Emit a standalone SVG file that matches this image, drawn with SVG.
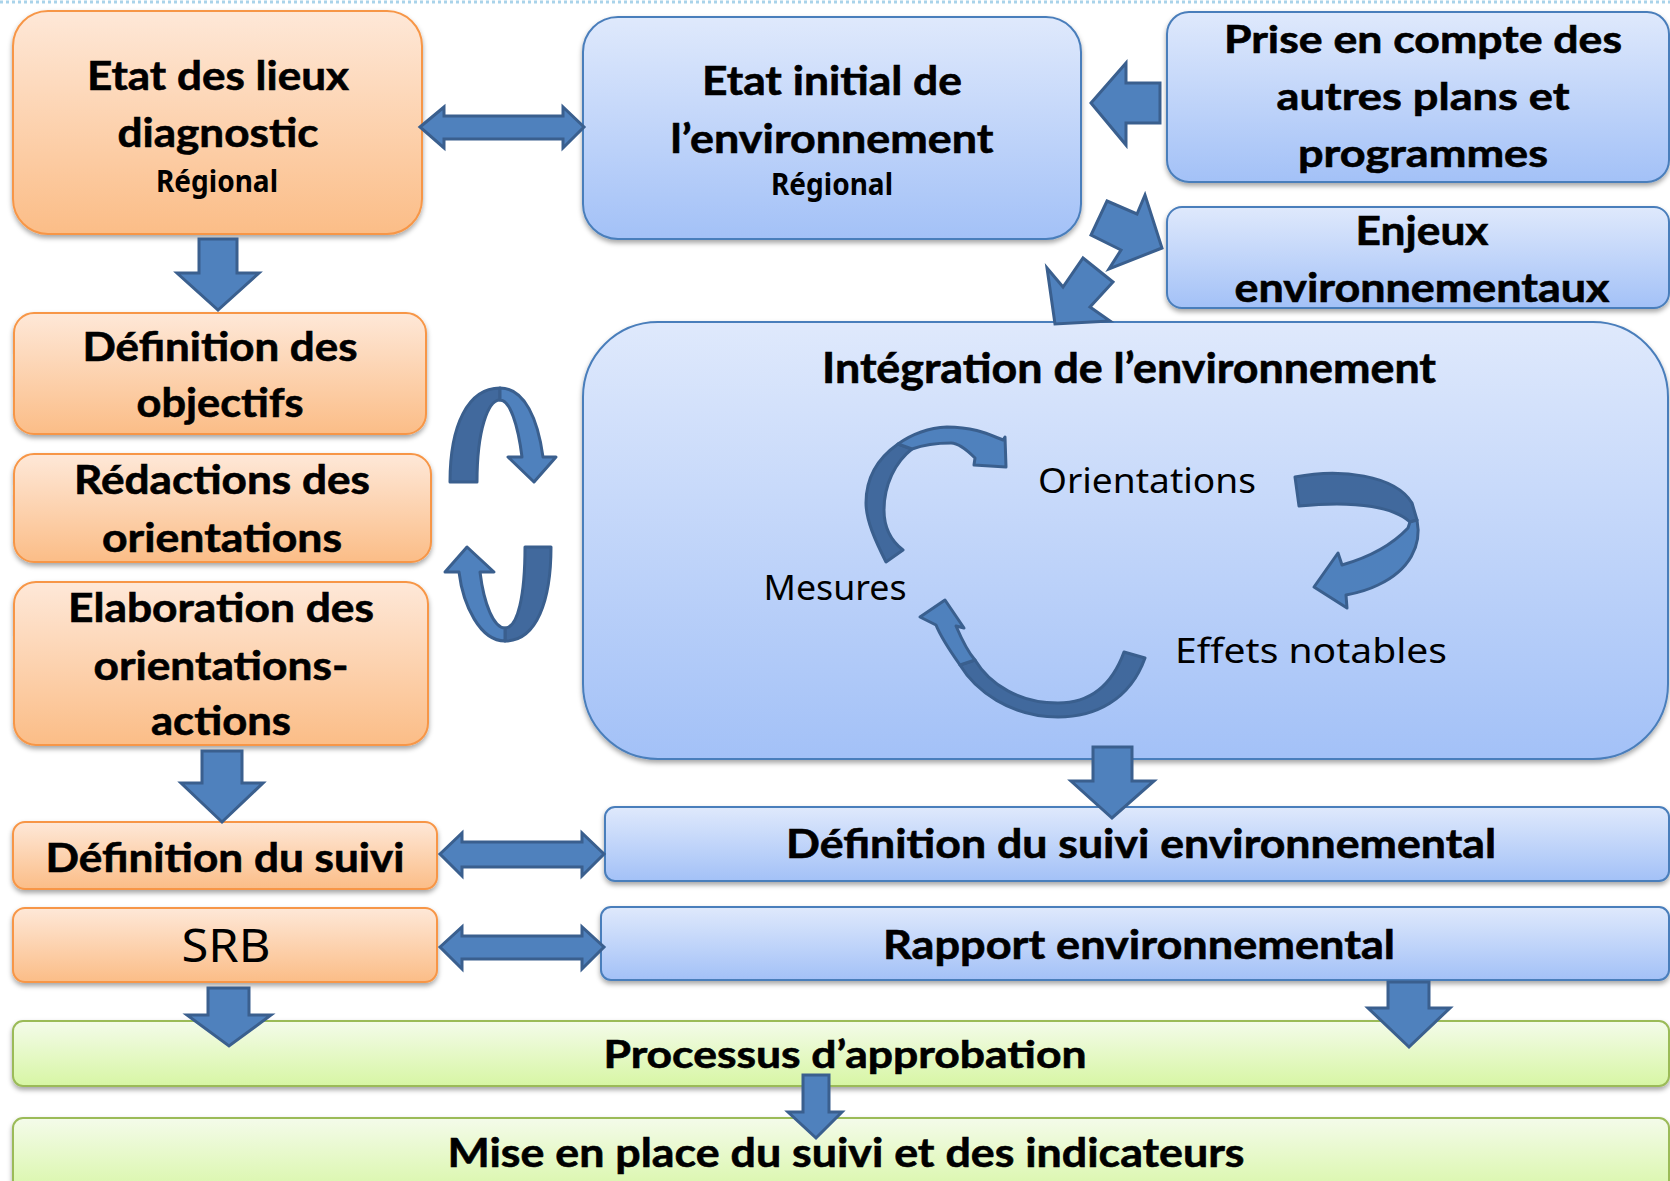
<svg xmlns="http://www.w3.org/2000/svg" width="1670" height="1181" viewBox="0 0 1670 1181">
  <defs>
    <linearGradient id="gOrange" x1="0" y1="0" x2="0" y2="1">
      <stop offset="0" stop-color="#fee8d8"/>
      <stop offset="1" stop-color="#fbbd87"/>
    </linearGradient>
    <linearGradient id="gBlue" x1="0" y1="0" x2="0" y2="1">
      <stop offset="0" stop-color="#dfe9fc"/>
      <stop offset="1" stop-color="#a3c1f7"/>
    </linearGradient>
    <linearGradient id="gGreen" x1="0" y1="0" x2="0" y2="1">
      <stop offset="0" stop-color="#f4fbea"/>
      <stop offset="1" stop-color="#d7f6a4"/>
    </linearGradient>
    <filter id="shadow" x="-5%" y="-10%" width="110%" height="130%">
      <feDropShadow dx="0" dy="3" stdDeviation="2.5" flood-color="#000" flood-opacity="0.35"/>
    </filter>
  </defs>
  <style>
    .orange { fill: url(#gOrange); stroke: #f79646; stroke-width: 2; filter: url(#shadow); }
    .blue { fill: url(#gBlue); stroke: #4a7ebb; stroke-width: 2; filter: url(#shadow); }
    .green { fill: url(#gGreen); stroke: #9bbb59; stroke-width: 2; filter: url(#shadow); }
    .t { font-family: Lato, "Open Sans", "DejaVu Sans", sans-serif; font-weight: 700; fill: #000; stroke: #000; stroke-width: 0.6; text-anchor: middle; }
    .t40 { font-size: 40px; }
    .t38 { font-size: 38px; }
    .t42 { font-size: 42px; }
    .c { font-family: "Noto Sans", "DejaVu Sans", sans-serif; fill: #000; text-anchor: middle; }
    .reg { font-size: 30px; font-weight: 700; }
    .lab { font-size: 35px; }
    .arrow { fill: #4f81bd; stroke: #3a5f8e; stroke-width: 3; stroke-linejoin: miter; }
    .back { fill: #41699d; stroke: #3a5f8e; stroke-width: 3; stroke-linejoin: round; }
    .front { fill: #4f81bd; stroke: #3a5f8e; stroke-width: 3; stroke-linejoin: round; }
  </style>

  <rect width="1670" height="1181" fill="#ffffff"/>
  <!-- dotted header rule -->
  <line x1="0" y1="2" x2="1670" y2="2" stroke="#a9d3ea" stroke-width="3" stroke-dasharray="3 3"/>

  <!-- left column -->
  <g id="etat-des-lieux">
    <rect class="orange" x="13" y="11" width="409" height="223" rx="35"/>
    <text class="t t40" x="218" y="90" textLength="262" lengthAdjust="spacingAndGlyphs">Etat des lieux</text>
    <text class="t t40" x="218" y="147" textLength="201" lengthAdjust="spacingAndGlyphs">diagnostic</text>
    <text class="c reg" x="217" y="192" textLength="122" lengthAdjust="spacingAndGlyphs">Régional</text>
  </g>
  <g id="definition-objectifs">
    <rect class="orange" x="14" y="313" width="412" height="121" rx="20"/>
    <text class="t t40" x="220" y="361" textLength="275" lengthAdjust="spacingAndGlyphs">Définition des</text>
    <text class="t t40" x="220" y="417" textLength="167" lengthAdjust="spacingAndGlyphs">objectifs</text>
  </g>
  <g id="redaction-orientations">
    <rect class="orange" x="14" y="454" width="417" height="108" rx="20"/>
    <text class="t t40" x="222" y="494" textLength="296" lengthAdjust="spacingAndGlyphs">Rédactions des</text>
    <text class="t t40" x="222" y="552" textLength="240" lengthAdjust="spacingAndGlyphs">orientations</text>
  </g>
  <g id="elaboration-orientations-actions">
    <rect class="orange" x="14" y="582" width="414" height="163" rx="22"/>
    <text class="t t40" x="221" y="622" textLength="306" lengthAdjust="spacingAndGlyphs">Elaboration des</text>
    <text class="t t40" x="221" y="680" textLength="255" lengthAdjust="spacingAndGlyphs">orientations-</text>
    <text class="t t40" x="221" y="735" textLength="140" lengthAdjust="spacingAndGlyphs">actions</text>
  </g>
  <g id="definition-suivi">
    <rect class="orange" x="13" y="822" width="424" height="67" rx="12"/>
    <text class="t t40" x="225" y="872" textLength="359" lengthAdjust="spacingAndGlyphs">Définition du suivi</text>
  </g>
  <g id="srb">
    <rect class="orange" x="13" y="908" width="424" height="74" rx="12"/>
    <text class="c" x="226" y="962" font-size="46" textLength="89" lengthAdjust="spacingAndGlyphs">SRB</text>
  </g>

  <!-- right column -->
  <g id="etat-initial">
    <rect class="blue" x="583" y="17" width="498" height="222" rx="35"/>
    <text class="t t40" x="832" y="95" textLength="260" lengthAdjust="spacingAndGlyphs">Etat initial de</text>
    <text class="t t40" x="832" y="153" textLength="323" lengthAdjust="spacingAndGlyphs">l’environnement</text>
    <text class="c reg" x="832" y="195" textLength="122" lengthAdjust="spacingAndGlyphs">Régional</text>
  </g>
  <g id="autres-plans">
    <rect class="blue" x="1167" y="12" width="502" height="170" rx="22"/>
    <text class="t t38" x="1423" y="53" textLength="398" lengthAdjust="spacingAndGlyphs">Prise en compte des</text>
    <text class="t t38" x="1423" y="110" textLength="293" lengthAdjust="spacingAndGlyphs">autres plans et</text>
    <text class="t t38" x="1423" y="167" textLength="250" lengthAdjust="spacingAndGlyphs">programmes</text>
  </g>
  <g id="enjeux">
    <rect class="blue" x="1167" y="207" width="502" height="101" rx="15"/>
    <text class="t t40" x="1422" y="245" textLength="133" lengthAdjust="spacingAndGlyphs">Enjeux</text>
    <text class="t t40" x="1422" y="302" textLength="375" lengthAdjust="spacingAndGlyphs">environnementaux</text>
  </g>
  <g id="integration">
    <rect class="blue" x="583" y="322" width="1085" height="437" rx="75"/>
    <text class="t t42" x="1129" y="383" textLength="614" lengthAdjust="spacingAndGlyphs">Intégration de l’environnement</text>
    <text class="c lab" x="1147" y="493" textLength="218" lengthAdjust="spacingAndGlyphs">Orientations</text>
    <text class="c lab" x="835" y="600" textLength="143" lengthAdjust="spacingAndGlyphs">Mesures</text>
    <text class="c lab" x="1311" y="663" textLength="272" lengthAdjust="spacingAndGlyphs">Effets notables</text>
  </g>
  <g id="suivi-environnemental">
    <rect class="blue" x="605" y="807" width="1064" height="74" rx="10"/>
    <text class="t t40" x="1141" y="858" textLength="710" lengthAdjust="spacingAndGlyphs">Définition du suivi environnemental</text>
  </g>
  <g id="rapport-environnemental">
    <rect class="blue" x="601" y="907" width="1068" height="73" rx="10"/>
    <text class="t t40" x="1139" y="959" textLength="512" lengthAdjust="spacingAndGlyphs">Rapport environnemental</text>
  </g>

  <!-- bottom bands -->
  <g id="processus-approbation">
    <rect class="green" x="13" y="1021" width="1656" height="65" rx="10"/>
    <text class="t t38" x="845" y="1068" textLength="483" lengthAdjust="spacingAndGlyphs">Processus d’approbation</text>
  </g>
  <g id="mise-en-place">
    <rect class="green" x="13" y="1118" width="1656" height="80" rx="10"/>
    <text class="t t40" x="846" y="1167" textLength="797" lengthAdjust="spacingAndGlyphs">Mise en place du suivi et des indicateurs</text>
  </g>

  <g id="connectors">
    <!-- block arrows -->
    <polygon class="arrow" points="199,239 237,239 237,273 259,273 218,310 177,273 199,273"/>
    <polygon class="arrow" points="420,127 444,107 444,116 563,116 563,107 584,127 563,148 563,139 444,139 444,148"/>
    <polygon class="arrow" points="1091,103 1126,63 1126,83 1160,83 1160,123 1126,123 1126,145"/>
    <polygon class="arrow" points="1107,201 1137,214 1145,195 1162,248 1109,269 1121,250 1091,235"/>
    <polygon class="arrow" points="1083,258 1113,282 1090,307 1110,321 1055,324 1047,268 1063,287"/>
    <polygon class="arrow" points="202,751 242,751 242,783 263,783 222,822 181,783 202,783"/>
    <polygon class="arrow" points="440,854 462,833 462,842 582,842 582,833 604,854 582,876 582,867 462,867 462,876"/>
    <polygon class="arrow" points="440,947 462,927 462,936 582,936 582,927 604,947 582,969 582,959 462,959 462,969"/>
    <polygon class="arrow" points="1093,747 1132,747 1132,781 1154,781 1112,818 1071,781 1093,781"/>
    <polygon class="arrow" points="208,988 249,988 249,1015 271,1015 229,1046 187,1015 208,1015"/>
    <polygon class="arrow" points="1388,982 1429,982 1429,1008 1450,1008 1409,1047 1368,1008 1388,1008"/>
    <polygon class="arrow" points="803,1075 829,1075 829,1112 842,1112 816,1138 788,1112 803,1112"/>

    <!-- looping arrows between the planning steps -->
    <path class="back" d="M450,482 C450,425 468,388 500,388 L500,400 C488,400 477,430 477,482 Z"/>
    <path class="front" d="M500,388 C525,388 538,420 543,457 L556,457 L534,482 L508,457 L522,457 C518,425 510,400 500,400 Z"/>
    <path class="back" d="M525,547 L551,547 C551,600 537,641 505,641 L505,628 C518,628 525,595 525,547 Z"/>
    <path class="front" d="M505,641 C480,641 463,605 459,572 L445,572 L467,547 L494,572 L480,572 C484,605 494,628 505,628 Z"/>

    <!-- cycle: Mesures -> Orientations -> Effets notables -> Mesures -->
    <path class="back" d="M886,562 C875,540 866,520 866,503 C866,478 878,458 898,444 L912,449 C895,462 884,485 884,510 C884,525 890,540 903,550 Z"/>
    <path class="front" d="M898,444 C912,434 928,428 947,427 C975,427 990,435 1003,440 L1005,437 L1006,467 L974,465 L975,458 C965,448 958,443 951,443 C936,443 923,445 912,449 Z"/>
    <path class="back" d="M1295,477 C1340,468 1395,475 1412,503 L1417,520 L1410,522 C1395,508 1360,500 1299,506 Z"/>
    <path class="front" d="M1417,520 C1422,545 1410,570 1378,585 C1368,590 1357,593 1346,595 L1347,608 L1314,587 L1338,553 L1342,565 C1370,557 1392,545 1408,528 L1410,522 Z"/>
    <path class="back" d="M1145,658 C1130,700 1095,717 1058,717 C1010,717 975,690 960,665 L975,660 C990,685 1020,703 1058,703 C1090,703 1112,685 1124,652 Z"/>
    <path class="front" d="M960,665 C948,648 940,635 936,625 L920,617 L945,600 L964,628 L956,626 C962,640 968,652 975,660 Z"/>
  </g>
</svg>
